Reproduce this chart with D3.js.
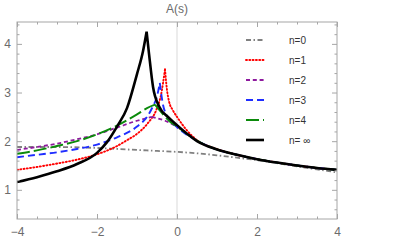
<!DOCTYPE html>
<html>
<head>
<meta charset="utf-8">
<script src="https://cdn.jsdelivr.net/npm/d3@7"></script>
<style>
  body { margin: 0; background: #fff; }
  svg { display: block; font-family: "Liberation Sans", "DejaVu Sans", sans-serif; }
</style>
</head>
<body>
<svg id="chart" width="395" height="247"></svg>
<script>
// data: s positions and A(s) values per curve
var n0S = [-4, -3, -2, -1.5, -1, -0.5, 0, 0.5, 1, 1.5, 2, 2.5, 3, 3.5, 4];
var n0A = [1.88, 1.88, 1.86, 1.84, 1.82, 1.8, 1.78, 1.75, 1.71, 1.66, 1.61, 1.55, 1.48, 1.42, 1.36];

var n1S = [-4, -3.5, -3, -2.5, -2, -1.5, -1.25, -1, -0.75, -0.5, -0.4, -0.3, -0.25, -0.2, -0.1, 0, 0.25, 0.5, 1, 1.5, 2, 2.5, 3, 3.5, 4];
var n1A = [1.41, 1.47, 1.54, 1.62, 1.73, 1.9, 2.02, 2.15, 2.35, 2.68, 2.95, 3.48, 3.05, 2.82, 2.63, 2.5, 2.22, 2.02, 1.84, 1.72, 1.63, 1.56, 1.5, 1.45, 1.41];

var n2S = [-4, -3.5, -3, -2.5, -2, -1.5, -1, -0.63, -0.3, 0, 0.5, 1, 1.5, 2, 2.5, 3, 3.5, 4];
var n2A = [1.82, 1.88, 1.95, 2.04, 2.14, 2.28, 2.42, 2.5, 2.42, 2.3, 2.01, 1.83, 1.72, 1.63, 1.56, 1.5, 1.45, 1.41];

var n3S = [-4, -3.5, -3, -2.5, -2, -1.5, -1, -0.75, -0.6, -0.5, -0.43, -0.35, -0.25, 0, 0.5, 1, 1.5, 2, 2.5, 3, 3.5, 4];
var n3A = [1.67, 1.72, 1.77, 1.84, 1.93, 2.08, 2.3, 2.5, 2.72, 2.92, 3.2, 2.75, 2.52, 2.29, 2.01, 1.83, 1.72, 1.63, 1.56, 1.5, 1.45, 1.41];

var n4S = [-4, -3.5, -3, -2.5, -2, -1.5, -1, -0.75, -0.55, -0.4, -0.2, 0, 0.5, 1, 1.5, 2, 2.5, 3, 3.5, 4];
var n4A = [1.74, 1.81, 1.9, 2.0, 2.14, 2.32, 2.55, 2.68, 2.75, 2.6, 2.42, 2.3, 2.01, 1.83, 1.72, 1.63, 1.56, 1.5, 1.45, 1.41];

var ninfS = [-4, -3.5, -3, -2.5, -2, -1.75, -1.5, -1.25, -1, -0.85, -0.76, -0.7, -0.6, -0.45, -0.2, 0, 0.3, 0.5, 1, 1.5, 2, 2.5, 3, 3.5, 4];
var ninfA = [1.16, 1.26, 1.38, 1.53, 1.76, 1.98, 2.3, 2.68, 3.38, 3.85, 4.25, 3.8, 3.12, 2.72, 2.48, 2.33, 2.12, 2.0, 1.83, 1.72, 1.63, 1.56, 1.5, 1.45, 1.41];

var legendLabels = ["n=0", "n=1", "n=2", "n=3", "n=4", "n= \u221e"];
var xTicks = [-4, -2, 0, 2, 4];
var yTicks = [1, 2, 3, 4];

var series = [
  {s: n0S, a: n0A, color: "#808080", width: 1.8, dash: "5,2.5,1.5,2.5", cap: "butt"},
  {s: n1S, a: n1A, color: "#ff0000", width: 1.9, dash: "1,2.3", cap: "round"},
  {s: n2S, a: n2A, color: "#8e1a9e", width: 1.8, dash: "4,2.8", cap: "butt"},
  {s: n3S, a: n3A, color: "#1f2dff", width: 1.9, dash: "7,4", cap: "butt"},
  {s: n4S, a: n4A, color: "#0b8a0b", width: 1.9, dash: "13,4", cap: "butt"},
  {s: ninfS, a: ninfA, color: "#000000", width: 2.6, dash: null, cap: "butt"}
];

var svg = d3.select("#chart");
var pLeft = 17, pRight = 337, pTop = 22, pBottom = 219;

var x = d3.scaleLinear().domain([-4, 4]).range([pLeft, pRight]);
var y = d3.scaleLinear().domain([0.4, 4.45]).range([pBottom, pTop]);

// vertical axis line at s=0
svg.append("line")
  .attr("x1", x(0)).attr("x2", x(0))
  .attr("y1", pTop).attr("y2", pBottom)
  .attr("stroke", "#d9d9d9").attr("stroke-width", 1);

svg.append("clipPath").attr("id", "clip")
  .append("rect").attr("x", pLeft).attr("y", pTop)
  .attr("width", pRight - pLeft).attr("height", pBottom - pTop);

var line = d3.line()
  .x(function(d) { return x(d[0]); })
  .y(function(d) { return y(d[1]); })
  .curve(d3.curveMonotoneX);

// split each curve at its peak so the cusp stays sharp
function cuspPath(sArr, aArr) {
  var pts = sArr.map(function(s, i) { return [s, aArr[i]]; });
  var k = d3.maxIndex(aArr);
  return line(pts.slice(0, k + 1)) + line(pts.slice(k));
}

var plot = svg.append("g").attr("clip-path", "url(#clip)");
series.forEach(function(d) {
  plot.append("path")
    .attr("d", cuspPath(d.s, d.a))
    .attr("fill", "none")
    .attr("stroke", d.color)
    .attr("stroke-width", d.width)
    .attr("stroke-dasharray", d.dash)
    .attr("stroke-linecap", d.cap)
    .attr("stroke-linejoin", "round");
});

// frame with inward ticks
var frameColor = "#a6a6a6";
svg.append("rect")
  .attr("x", pLeft).attr("y", pTop)
  .attr("width", pRight - pLeft).attr("height", pBottom - pTop)
  .attr("fill", "none").attr("stroke", frameColor).attr("stroke-width", 1);

var axB = d3.axisBottom(x).tickValues(xTicks).tickSize(-5).tickFormat(function(d) { return d < 0 ? "\u2212" + (-d) : d; });
var axT = d3.axisTop(x).tickValues(xTicks).tickSize(-5).tickFormat("");
var axL = d3.axisLeft(y).tickValues(yTicks).tickSize(-5).tickFormat(d3.format("d"));
var axR = d3.axisRight(y).tickValues(yTicks).tickSize(-5).tickFormat("");

var xMinor = d3.range(-3.5, 4, 0.5).filter(function(v) { return Math.abs(v % 2) > 0.01; });
var yMinor = d3.range(0.6, 4.45, 0.2).filter(function(v) { return Math.abs(v - Math.round(v)) > 0.01; });

function styleAxis(g) {
  g.select(".domain").remove();
  g.selectAll(".tick line").attr("stroke", frameColor);
  g.selectAll(".tick text").attr("fill", "#6b6b6b").attr("font-size", 12);
}

svg.append("g").attr("transform", "translate(0," + pBottom + ")").call(axB).call(styleAxis)
  .selectAll(".tick text").attr("y", 8);
svg.append("g").attr("transform", "translate(0," + pTop + ")").call(axT).call(styleAxis);
svg.append("g").attr("transform", "translate(" + pLeft + ",0)").call(axL).call(styleAxis)
  .selectAll(".tick text").attr("x", -6);
svg.append("g").attr("transform", "translate(" + pRight + ",0)").call(axR).call(styleAxis);

svg.append("g").attr("transform", "translate(0," + pBottom + ")")
  .call(d3.axisBottom(x).tickValues(xMinor).tickSize(-2.5).tickFormat("")).call(styleAxis);
svg.append("g").attr("transform", "translate(0," + pTop + ")")
  .call(d3.axisTop(x).tickValues(xMinor).tickSize(-2.5).tickFormat("")).call(styleAxis);
svg.append("g").attr("transform", "translate(" + pLeft + ",0)")
  .call(d3.axisLeft(y).tickValues(yMinor).tickSize(-2.5).tickFormat("")).call(styleAxis);
svg.append("g").attr("transform", "translate(" + pRight + ",0)")
  .call(d3.axisRight(y).tickValues(yMinor).tickSize(-2.5).tickFormat("")).call(styleAxis);

// axis label on top
svg.append("text")
  .attr("x", x(0)).attr("y", 13)
  .attr("text-anchor", "middle")
  .attr("fill", "#6b6b6b").attr("font-size", 12)
  .text("A(s)");

// legend
var legend = svg.append("g");
series.forEach(function(d, i) {
  var ly = 40 + i * 20;
  legend.append("line")
    .attr("x1", 246).attr("x2", 264)
    .attr("y1", ly).attr("y2", ly)
    .attr("stroke", d.color)
    .attr("stroke-width", d.width)
    .attr("stroke-dasharray", d.dash)
    .attr("stroke-linecap", d.cap);
  legend.append("text")
    .attr("x", 289).attr("y", ly + 3.5)
    .attr("fill", "#333").attr("font-size", 10)
    .text(legendLabels[i]);
});
</script>
</body>
</html>
